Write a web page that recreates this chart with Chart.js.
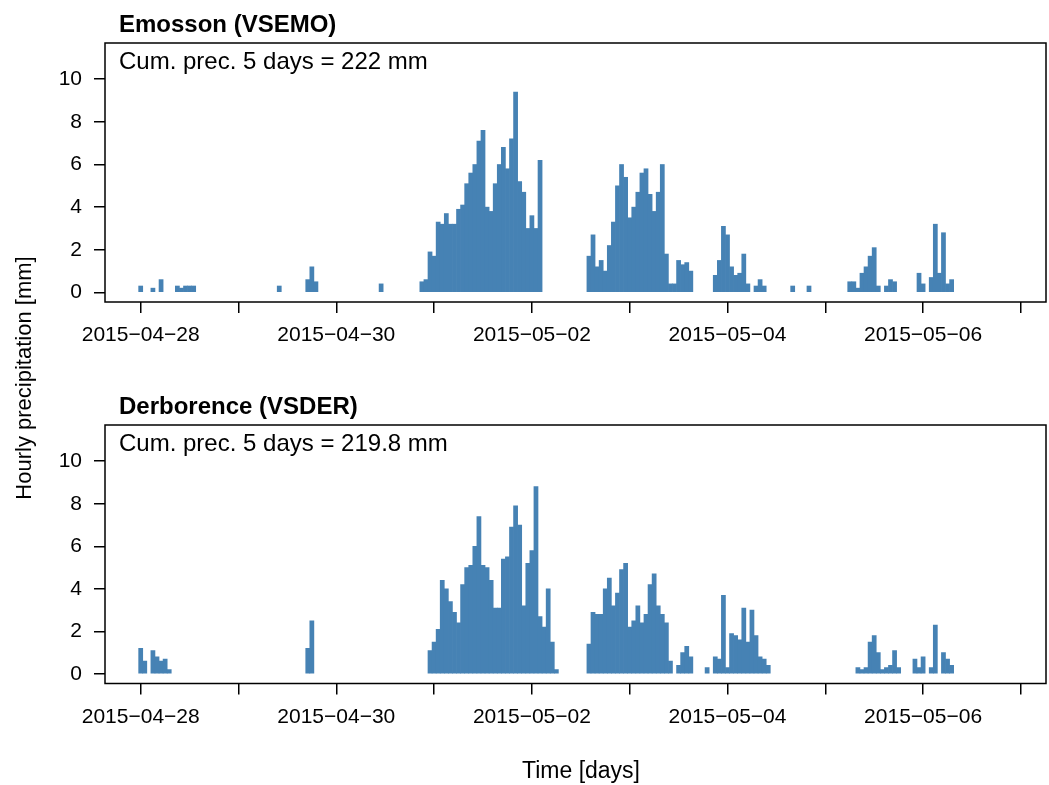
<!DOCTYPE html>
<html>
<head>
<meta charset="utf-8">
<title>Precipitacion horaria</title>
<script src="https://cdn.jsdelivr.net/npm/chart.js@4.4.0/dist/chart.umd.min.js"></script>
<style>
  body { margin: 0; background: #fff; }
  #contenedor { position: relative; width: 1049px; height: 785px; }
  canvas { position: absolute; left: 0; top: 0; }
</style>
</head>
<body>
<div id="contenedor">
  <canvas id="grafoArriba" width="1049" height="785"></canvas>
  <canvas id="grafoAbajo" width="1049" height="785"></canvas>
</div>
<script>
// horas desde 2015-04-28 00:00 y precipitacion horaria en mm (solo horas con lluvia)
const horasEmosson = [0, 3, 5, 9, 10, 11, 12, 13, 34, 41, 42, 43, 59,
  69, 70, 71, 72, 73, 74, 75, 76, 77, 78, 79, 80, 81, 82, 83, 84, 85, 86, 87, 88, 89, 90, 91, 92, 93, 94, 95, 96, 97, 98,
  110, 111, 112, 113, 114, 115, 116, 117, 118, 119, 120, 121, 122, 123, 124, 125, 126, 127, 128, 129, 130, 131, 132, 133, 134, 135,
  141, 142, 143, 144, 145, 146, 147, 148, 149,
  151, 152, 153, 160, 164,
  174, 175, 176, 177, 178, 179, 180, 181,
  183, 184, 185, 191, 192,
  194, 195, 196, 197, 198, 199];
const precEmosson = [0.3, 0.2, 0.6, 0.3, 0.2, 0.3, 0.3, 0.3, 0.3, 0.6, 1.2, 0.5, 0.4,
  0.5, 0.6, 1.9, 1.7, 3.3, 3.2, 3.7, 3.2, 3.2, 3.9, 4.1, 5.1, 5.6, 6.0, 7.1, 7.6, 4.0, 3.8, 5.1, 6.0, 6.8, 5.8, 7.2, 9.4, 5.2, 4.7, 3.0, 3.6, 3.0, 6.2,
  1.7, 2.7, 1.2, 1.5, 1.0, 2.2, 3.3, 5.0, 6.0, 5.4, 3.5, 4.0, 4.7, 5.6, 5.8, 4.6, 3.8, 4.7, 6.0, 1.8, 0.4, 0.4, 1.5, 1.3, 1.4, 1.0,
  0.8, 1.5, 3.1, 2.7, 1.2, 0.8, 0.9, 1.8, 0.4,
  0.3, 0.6, 0.3, 0.3, 0.3,
  0.5, 0.5, 0.2, 0.9, 1.2, 1.7, 2.1, 0.3,
  0.3, 0.6, 0.5, 0.9, 0.4,
  0.7, 3.2, 0.9, 2.8, 0.4, 0.6];

const horasDerborence = [0, 1, 3, 4, 5, 6, 7, 41, 42,
  71, 72, 73, 74, 75, 76, 77, 78, 79, 80, 81, 82, 83, 84, 85, 86, 87, 88, 89, 90, 91, 92, 93, 94, 95, 96, 97, 98, 99, 100, 101, 102,
  110, 111, 112, 113, 114, 115, 116, 117, 118, 119, 120, 121, 122, 123, 124, 125, 126, 127, 128, 129, 130,
  132, 133, 134, 135, 139,
  141, 142, 143, 144, 145, 146, 147, 148, 149, 150, 151, 152, 153, 154,
  176, 177, 178, 179, 180, 181, 182, 183, 184, 185, 186,
  190, 191, 192, 194, 195, 197, 198, 199];
const precDerborence = [1.2, 0.6, 1.1, 0.8, 0.6, 0.7, 0.2, 1.2, 2.5,
  1.1, 1.5, 2.1, 4.4, 4.0, 3.4, 2.9, 2.4, 4.2, 5.0, 5.1, 6.0, 7.4, 5.1, 5.0, 4.4, 3.1, 3.1, 5.4, 5.5, 6.9, 7.9, 7.0, 3.2, 5.2, 5.8, 8.8, 2.7, 2.2, 4.0, 1.5, 0.2,
  1.4, 2.9, 2.8, 2.8, 4.0, 4.5, 3.2, 3.8, 4.9, 5.2, 2.2, 2.5, 3.2, 2.4, 2.8, 4.2, 4.7, 3.2, 2.8, 2.4, 0.6,
  0.4, 1.0, 1.3, 0.8, 0.3,
  0.8, 0.7, 3.7, 0.3, 1.9, 1.8, 1.6, 3.1, 1.5, 3.0, 1.8, 0.8, 0.7, 0.4,
  0.3, 0.2, 0.3, 1.5, 1.8, 1.0, 0.2, 0.3, 0.4, 1.1, 0.3,
  0.7, 0.3, 0.8, 0.3, 2.3, 1.0, 0.7, 0.4];

// ticks del eje x: una marca por dia, etiqueta cada dos dias
const diasTicks = [0, 24, 48, 72, 96, 120, 144, 168, 192, 216];
const etiquetasDias = ['2015\u221204\u221228', '', '2015\u221204\u221230', '', '2015\u221205\u221202', '',
  '2015\u221205\u221204', '', '2015\u221205\u221206', ''];
const ticksY = [0, 2, 4, 6, 8, 10];

const titulos = ['Emosson (VSEMO)', 'Derborence (VSDER)'];
const notas = ['Cum. prec. 5 days = 222 mm', 'Cum. prec. 5 days = 219.8 mm'];
const tituloY = 'Hourly precipitation [mm]';
const tituloX = 'Time [days]';

const fuente = '"Liberation Sans", Arial, Helvetica, sans-serif';
const azul = '#4682b4';

// dibuja el marco del panel y los textos
const marco = {
  id: 'marco',
  afterDraw(chart, args, opts) {
    const ctx = chart.ctx;
    const a = chart.chartArea;
    ctx.save();
    ctx.strokeStyle = '#000';
    ctx.lineWidth = 1.5;
    ctx.strokeRect(a.left, a.top, a.right - a.left, a.bottom - a.top);
    ctx.fillStyle = '#000';
    ctx.textAlign = 'left';
    ctx.textBaseline = 'alphabetic';
    ctx.font = 'bold 24px ' + fuente;
    ctx.fillText(opts.titulo, a.left + 14, a.top - 11.5);
    ctx.font = '24px ' + fuente;
    ctx.fillText(opts.nota, a.left + 14, a.top + 25.5);
    if (opts.ejes) {
      ctx.font = '23px ' + fuente;
      ctx.textAlign = 'center';
      ctx.fillText(tituloX, 581, 777.5);
      ctx.font = '22px ' + fuente;
      ctx.translate(31, 378);
      ctx.rotate(-Math.PI / 2);
      ctx.fillText(tituloY, 0, 0);
    }
    ctx.restore();
  }
};

function crearGrafico(id, horas, prec, indice, arriba) {
  const datos = [];
  for (let i = 0; i < horas.length; i++) {
    datos.push({x: horas[i], y: prec[i]});
  }
  // padding para colocar cada panel en su sitio
  const padding = arriba
    ? {left: 0, right: 3, top: 43, bottom: 433}
    : {left: 0, right: 3, top: 425, bottom: 51.5};

  return new Chart(document.getElementById(id), {
    type: 'bar',
    data: {
      datasets: [{
        data: datos,
        backgroundColor: azul,
        borderWidth: 0,
        barPercentage: 1,
        categoryPercentage: 1
      }]
    },
    options: {
      responsive: false,
      animation: false,
      devicePixelRatio: 1,
      layout: {padding: padding},
      plugins: {
        legend: {display: false},
        tooltip: {enabled: false},
        marco: {titulo: titulos[indice], nota: notas[indice], ejes: !arriba}
      },
      scales: {
        x: {
          type: 'linear',
          offset: false,
          min: -8.76,
          max: 222.16,
          grid: {display: true, drawOnChartArea: false, offset: false, tickLength: 11, color: '#000', lineWidth: 1.5},
          border: {display: false},
          afterBuildTicks: (eje) => { eje.ticks = diasTicks.map(v => ({value: v})); },
          afterFit: (eje) => { eje.height = 50; },
          ticks: {
            autoSkip: false,
            maxRotation: 0,
            minRotation: 0,
            padding: 10,
            color: '#000',
            font: {family: fuente, size: 21},
            callback: (valor) => etiquetasDias[diasTicks.indexOf(valor)]
          }
        },
        y: {
          min: -0.45,
          max: 11.7,
          grid: {display: true, drawOnChartArea: false, tickLength: 11, color: '#000', lineWidth: 1.5},
          border: {display: false},
          afterBuildTicks: (eje) => { eje.ticks = ticksY.map(v => ({value: v})); },
          afterFit: (eje) => { eje.width = 105; },
          ticks: {
            padding: 12,
            color: '#000',
            font: {family: fuente, size: 21},
            callback: (valor) => String(valor)
          }
        }
      }
    },
    plugins: [marco]
  });
}

document.addEventListener('DOMContentLoaded', () => {
  crearGrafico('grafoArriba', horasEmosson, precEmosson, 0, true);
  crearGrafico('grafoAbajo', horasDerborence, precDerborence, 1, false);
});
</script>
</body>
</html>
